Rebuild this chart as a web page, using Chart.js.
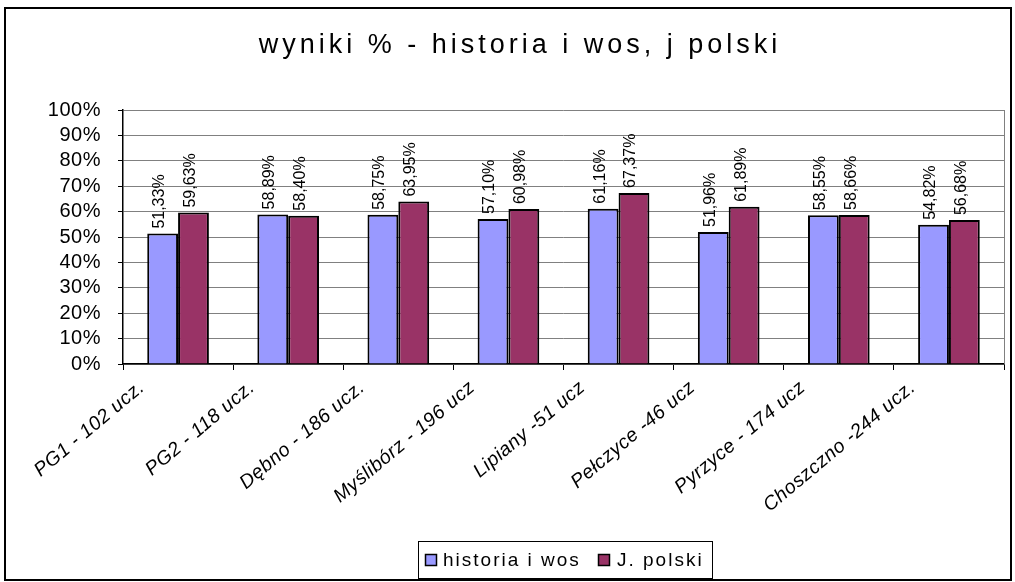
<!DOCTYPE html>
<html>
<head>
<meta charset="utf-8">
<script src="https://cdn.jsdelivr.net/npm/chart.js@4/dist/chart.umd.min.js"></script>
<style>
  html, body { margin: 0; padding: 0; background: #fff; }
  #wrap { width: 1015px; height: 582px; }
</style>
</head>
<body>
<div id="wrap"><canvas id="chart" width="1015" height="582"></canvas></div>
<script>
// dane
const categories = ['PG1 - 102 ucz.', 'PG2 - 118 ucz.', 'Dębno - 186 ucz.', 'Myślibórz - 196 ucz',
  'Lipiany -51 ucz', 'Pełczyce -46 ucz', 'Pyrzyce - 174 ucz', 'Choszczno -244 ucz.'];
const historiaValues = [51.33, 58.89, 58.75, 57.10, 61.16, 51.96, 58.55, 54.82];
const polskiValues = [59.63, 58.40, 63.95, 60.98, 67.37, 61.89, 58.66, 56.68];
const seriesNames = ['historia i wos', 'J. polski'];
const titleText = 'wyniki % - historia i wos, j polski';

const colors = ['#9999ff', '#993366'];
const FONT = 'Arial, "Liberation Sans", sans-serif';

// ramka, tytuł, legenda i etykiety wartości
const decorPlugin = {
  id: 'decor',
  beforeDraw(chart) {
    chart.ctx.letterSpacing = '0.5px';
  },
  afterDraw(chart) {
    const ctx = chart.ctx;
    const area = chart.chartArea;
    ctx.save();

    // prawa krawędź obszaru wykresu
    ctx.strokeStyle = '#808080';
    ctx.lineWidth = 1;
    ctx.beginPath();
    ctx.moveTo(area.right + 0.5, area.top);
    ctx.lineTo(area.right + 0.5, area.bottom);
    ctx.stroke();

    // ramka zewnętrzna
    ctx.strokeStyle = '#000';
    ctx.lineWidth = 2;
    ctx.strokeRect(5, 8, 1006, 572);

    // tytuł
    ctx.fillStyle = '#000';
    ctx.letterSpacing = '4px';
    ctx.font = '27px ' + FONT;
    ctx.textAlign = 'center';
    ctx.textBaseline = 'middle';
    ctx.fillText(titleText, 520, 46);

    // etykiety wartości (pionowo)
    ctx.letterSpacing = '0px';
    ctx.font = '16px ' + FONT;
    chart.data.datasets.forEach((ds, i) => {
      const meta = chart.getDatasetMeta(i);
      meta.data.forEach((bar, j) => {
        const txt = ds.data[j].toFixed(2).replace('.', ',') + '%';
        ctx.save();
        ctx.translate(bar.x - 3, bar.y - 5);
        ctx.rotate(-Math.PI / 2);
        ctx.textAlign = 'left';
        ctx.textBaseline = 'middle';
        ctx.fillText(txt, 0, 0);
        ctx.restore();
      });
    });

    // legenda
    const lx = 418, ly = 541, lw = 294, lh = 37;
    ctx.lineWidth = 1;
    ctx.strokeRect(lx + 0.5, ly + 0.5, lw, lh);
    ctx.font = '19px ' + FONT;
    ctx.letterSpacing = '2px';
    ctx.textAlign = 'left';
    ctx.textBaseline = 'middle';
    const items = [{ x: 425, tx: 443 }, { x: 598, tx: 617 }];
    items.forEach((it, i) => {
      ctx.fillStyle = colors[i];
      ctx.fillRect(it.x, ly + 13, 12, 12);
      ctx.strokeStyle = '#000';
      ctx.lineWidth = 1.5;
      ctx.strokeRect(it.x + 0.5, ly + 13.5, 11, 11);
      ctx.fillStyle = '#000';
      ctx.fillText(seriesNames[i], it.tx, ly + 20);
    });

    ctx.restore();
  }
};

const ctx = document.getElementById('chart').getContext('2d');
const chart = new Chart(ctx, {
  type: 'bar',
  data: {
    labels: categories,
    datasets: [
      {
        label: seriesNames[0],
        data: historiaValues,
        backgroundColor: colors[0],
        borderColor: '#000',
        borderWidth: 2,
        categoryPercentage: 0.56,
        barPercentage: 1.0
      },
      {
        label: seriesNames[1],
        data: polskiValues,
        backgroundColor: colors[1],
        borderColor: '#000',
        borderWidth: 2,
        categoryPercentage: 0.56,
        barPercentage: 1.0
      }
    ]
  },
  options: {
    responsive: false,
    animation: false,
    layout: {
      padding: { top: 110, left: 10, right: 11, bottom: 10 }
    },
    plugins: {
      legend: { display: false },
      title: { display: false },
      tooltip: { enabled: false }
    },
    scales: {
      x: {
        offset: true,
        grid: {
          offset: true,
          drawOnChartArea: false,
          tickLength: 6,
          tickColor: '#000'
        },
        border: { color: '#000', width: 1.5 },
        ticks: {
          autoSkip: false,
          minRotation: 40,
          maxRotation: 40,
          labelOffset: -36,
          padding: 6,
          color: '#000',
          font: { family: FONT, size: 19.5, style: 'italic' }
        },
        afterFit(scale) { scale.height = 208; }
      },
      y: {
        min: 0,
        max: 100,
        grid: {
          color: '#808080',
          tickColor: '#000',
          tickLength: 5
        },
        border: { color: '#000', width: 1.5 },
        ticks: {
          stepSize: 10,
          autoSkip: false,
          maxTicksLimit: 11,
          padding: 17,
          color: '#000',
          font: { family: FONT, size: 20, lineHeight: 1 },
          callback: v => v + '%'
        },
        afterFit(scale) { scale.width = 113; }
      }
    }
  },
  plugins: [decorPlugin]
});
</script>
</body>
</html>
